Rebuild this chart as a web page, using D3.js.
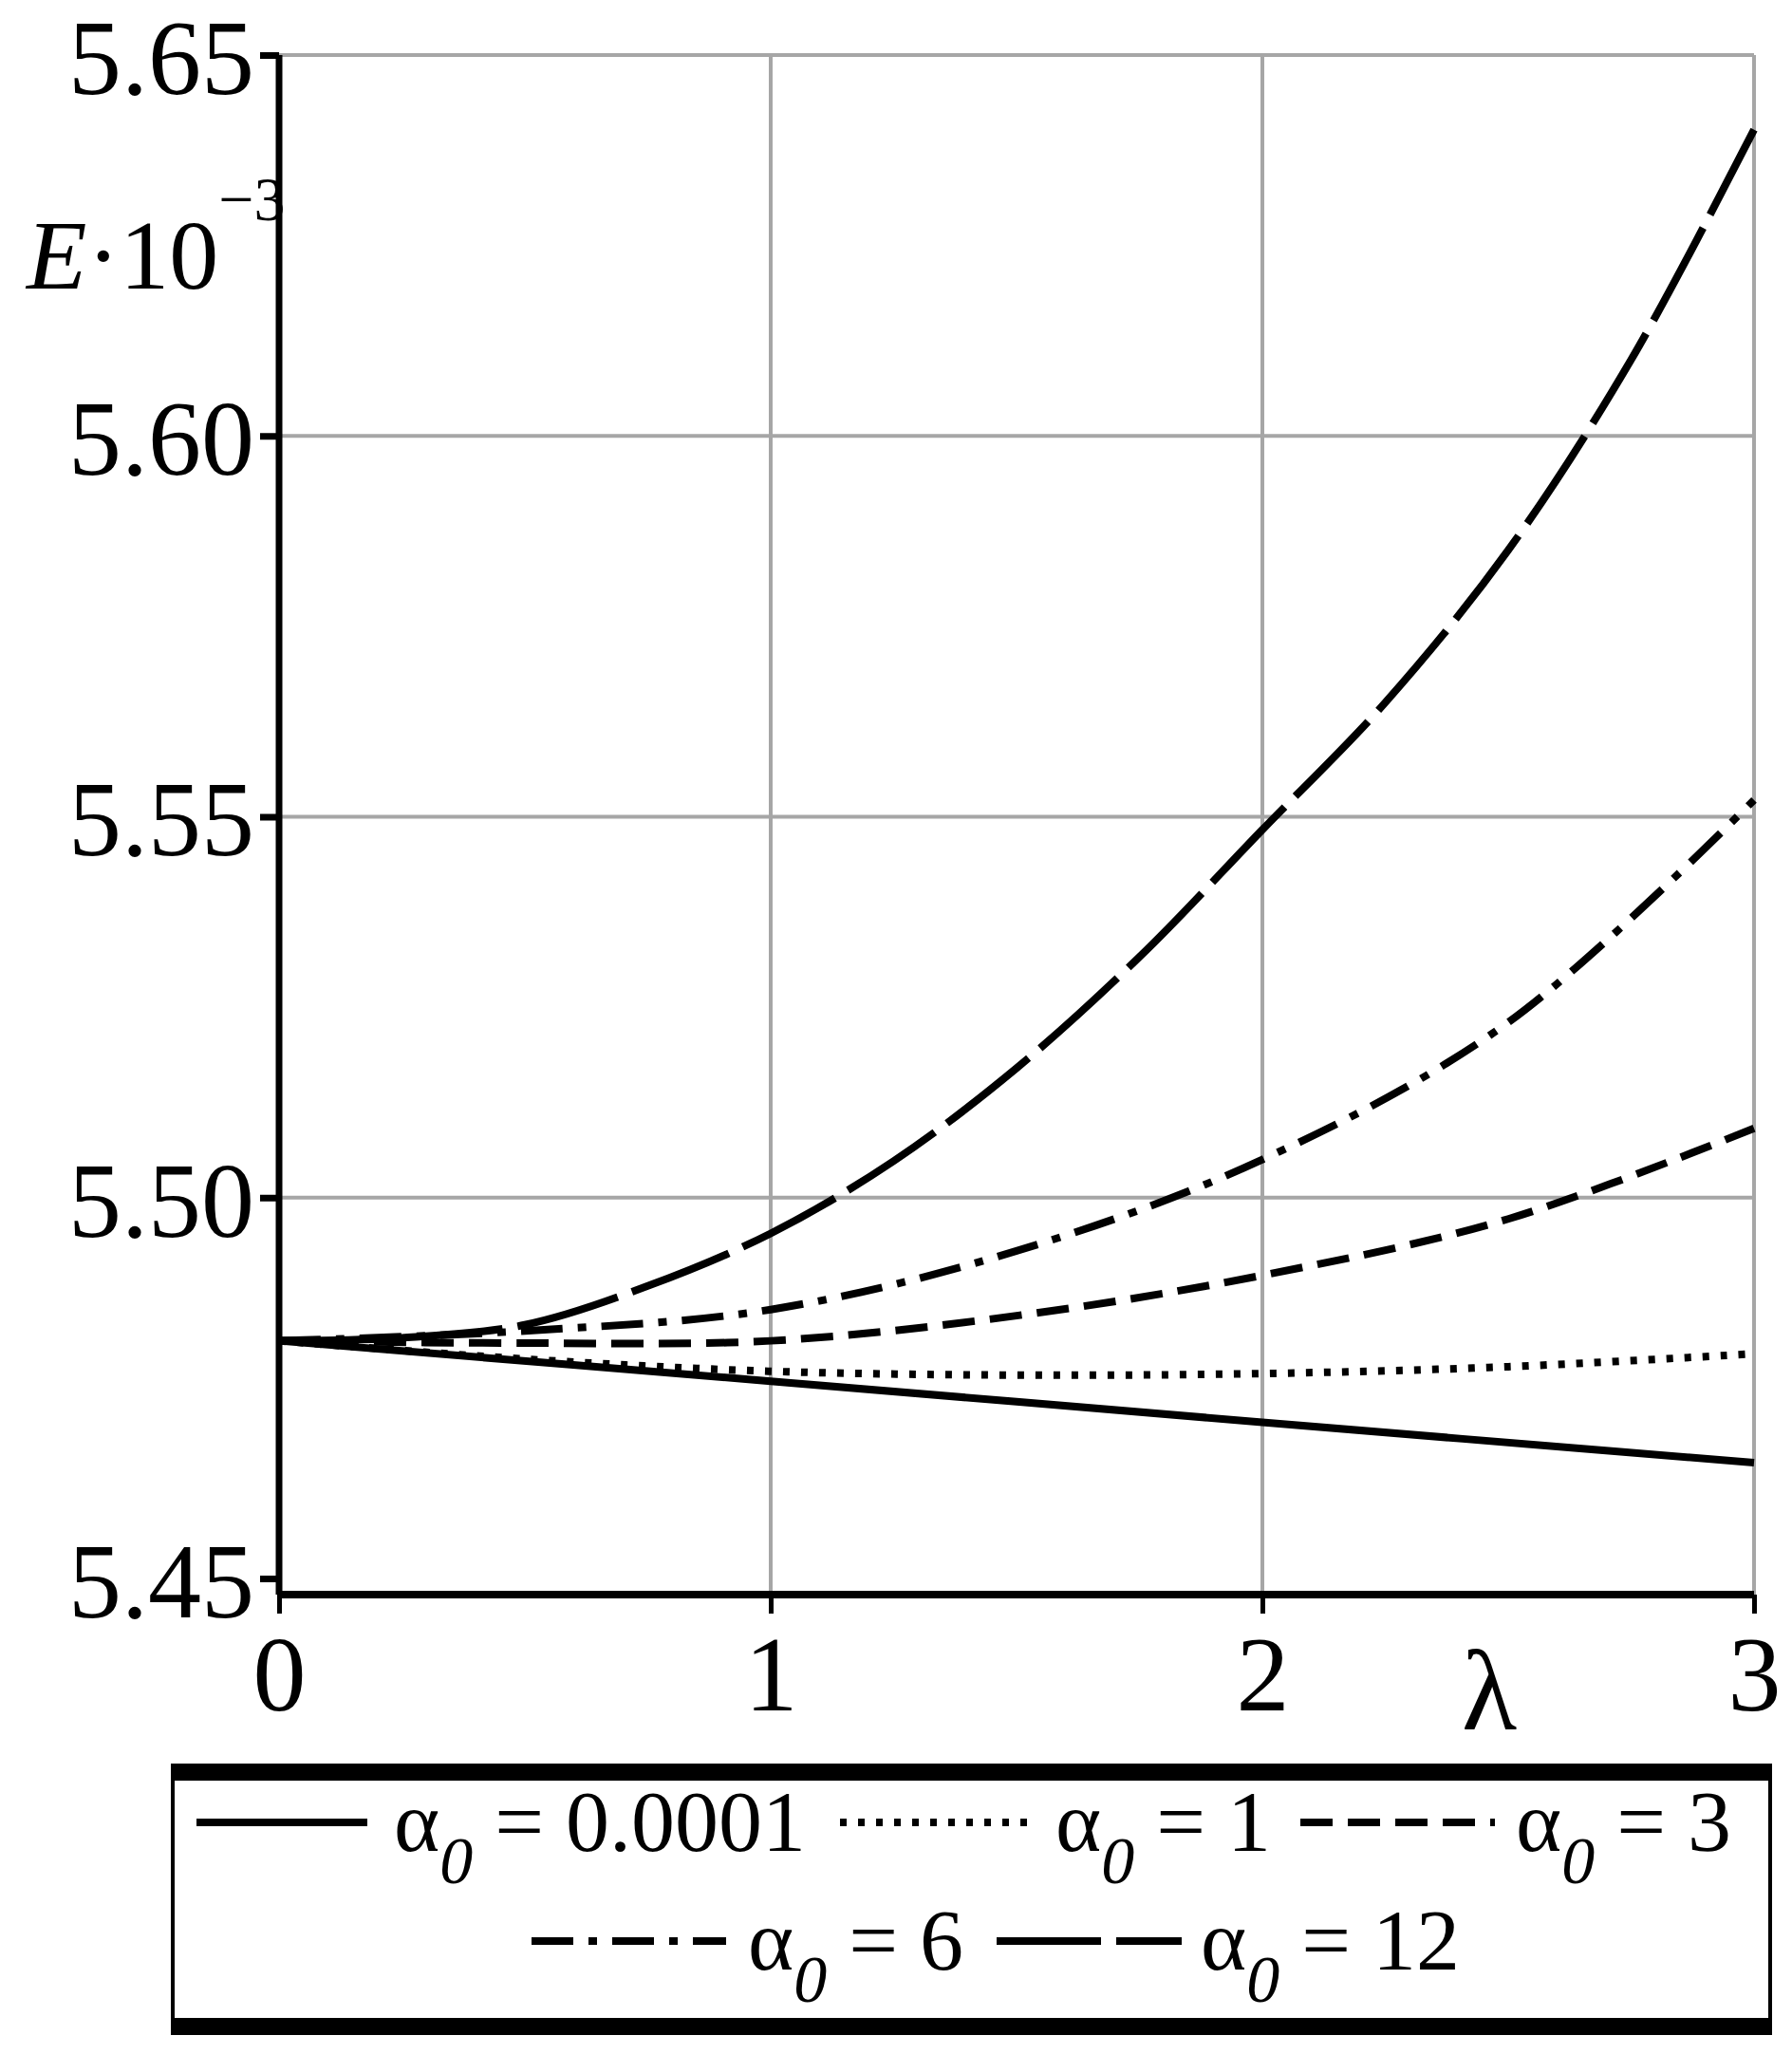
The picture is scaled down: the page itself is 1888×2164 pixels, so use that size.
<!DOCTYPE html>
<html><head><meta charset="utf-8">
<script src="https://cdn.jsdelivr.net/npm/d3@7"></script>
<style>body{margin:0;background:#fff}svg text{font-family:"Liberation Serif","Times New Roman","DejaVu Serif",serif !important}</style>
</head><body>
<svg id="chart" width="1888" height="2164"></svg>
<script>
// lambda values
var lambdas = [0, 0.25, 0.5, 0.75, 1, 1.25, 1.5, 1.75, 2, 2.25, 2.5, 2.75, 3];
var lambdasHalf = [0, 0.5, 1, 1.5, 2, 2.5, 3];
var lambdasInt = [0, 1, 2, 3];

// E*10^-3 per alpha_0
var e_a0001 = [5.4812, 5.4759, 5.4705, 5.4652];
var e_a1 = [5.4812, 5.4788, 5.4772, 5.4767, 5.4769, 5.4778, 5.4795];
var e_a3 = [5.4812, 5.4809, 5.4812, 5.4845, 5.4898, 5.4972, 5.5091];
var e_a6 = [5.4812, 5.4825, 5.4853, 5.4930, 5.5050, 5.5230, 5.5522];
var e_a12 = [5.4812, 5.4816, 5.4833, 5.4884, 5.4953, 5.5048, 5.5170, 5.5316, 5.5483, 5.5650, 5.5850, 5.6100, 5.6402];

var yTicks = [5.45, 5.50, 5.55, 5.60, 5.65];
var xTicks = [0, 1, 2, 3];
var legendLabels = ["0.0001", "1", "3", "6", "12"];

var svg = d3.select('#chart');
var x = d3.scaleLinear().domain([0, 3]).range([294, 1848]);
var y = d3.scaleLinear().domain([5.45, 5.65]).range([1663, 58]);
var xAxisY = 1680;
var serif = '"Liberation Serif","Times New Roman",serif';

// grid
svg.append('g').selectAll('line').data(yTicks.slice(1)).enter().append('line')
  .attr('x1', 294).attr('x2', 1848).attr('y1', d => y(d)).attr('y2', d => y(d))
  .attr('stroke', '#a6a6a6').attr('stroke-width', 4);
svg.append('g').selectAll('line').data(xTicks.slice(1)).enter().append('line')
  .attr('x1', d => x(d)).attr('x2', d => x(d)).attr('y1', 58).attr('y2', xAxisY)
  .attr('stroke', '#a6a6a6').attr('stroke-width', 4);

// axes
var yAxis = d3.axisLeft(y).tickValues(yTicks).tickFormat(d3.format('.2f')).tickSize(20).tickPadding(6);
var gy = svg.append('g').attr('transform', 'translate(294,0)').call(yAxis).attr('font-family', serif);
gy.select('.domain').attr('d', 'M0,58V' + xAxisY).attr('stroke', '#000').attr('stroke-width', 7);
gy.selectAll('.tick line').attr('stroke', '#000').attr('stroke-width', 7);
gy.selectAll('.tick text').attr('font-size', 112).attr('fill', '#000').attr('dy', '0.36em')
  .style('font-family', serif);

var xAxis = d3.axisBottom(x).tickValues(xTicks).tickFormat(d3.format('d')).tickSize(20).tickPadding(22);
var gx = svg.append('g').attr('transform', 'translate(0,' + xAxisY + ')').call(xAxis).attr('font-family', serif);
gx.select('.domain').attr('d', 'M294,0H1848').attr('stroke', '#000').attr('stroke-width', 8);
gx.selectAll('.tick line').attr('stroke', '#000').attr('stroke-width', 5);
gx.selectAll('.tick text').attr('font-size', 112).attr('fill', '#000').style('font-family', serif);

// axis labels
svg.append('text').attr('x', 1569).attr('y', 1822).attr('font-size', 120).attr('text-anchor', 'middle')
  .style('font-family', serif).text('λ');
var yl = svg.append('text').attr('x', 28).attr('y', 304).attr('font-size', 104).style('font-family', serif);
yl.append('tspan').attr('font-style', 'italic').text('E');
yl.append('tspan').text('·10');
yl.append('tspan').attr('font-size', 66).attr('dy', -72).text('−3');

// series
var styles = [
  {data: e_a0001, xs: lambdasInt, dash: null},
  {data: e_a1, xs: lambdasHalf, dash: '7,12'},
  {data: e_a3, xs: lambdasHalf, dash: '34,16'},
  {data: e_a6, xs: lambdasHalf, dash: '44,16,9,16'},
  {data: e_a12, xs: lambdas, dash: '110,16'}
];
var line = d3.line().x(d => x(d[0])).y(d => y(d[1])).curve(d3.curveCatmullRom.alpha(0.5));
styles.forEach(function(s) {
  svg.append('path').datum(s.xs.map((l, i) => [l, s.data[i]]))
    .attr('d', line).attr('fill', 'none').attr('stroke', '#000')
    .attr('stroke-width', 8).attr('stroke-dasharray', s.dash);
});

// legend
svg.append('rect').attr('x', 182).attr('y', 1868).attr('width', 1683).attr('height', 265)
  .attr('fill', 'none').attr('stroke', '#000').attr('stroke-width', 4);
svg.append('rect').attr('x', 180).attr('y', 1858).attr('width', 1687).attr('height', 18).attr('fill', '#000');
svg.append('rect').attr('x', 180).attr('y', 2126).attr('width', 1687).attr('height', 18).attr('fill', '#000');

var legendPos = [
  {lx: 207, lw: 180, tx: 415, ty: 1950},
  {lx: 885, lw: 205, tx: 1112, ty: 1950},
  {lx: 1370, lw: 205, tx: 1597, ty: 1950},
  {lx: 560, lw: 205, tx: 788, ty: 2075},
  {lx: 1050, lw: 195, tx: 1265, ty: 2075}
];
legendLabels.forEach(function(lab, i) {
  var p = legendPos[i];
  svg.append('line').attr('x1', p.lx).attr('x2', p.lx + p.lw).attr('y1', p.ty - 30).attr('y2', p.ty - 30)
    .attr('stroke', '#000').attr('stroke-width', 8).attr('stroke-dasharray', styles[i].dash);
  var t = svg.append('text').attr('x', p.tx).attr('y', p.ty).attr('font-size', 92).style('font-family', serif);
  t.append('tspan').text('α');
  t.append('tspan').attr('font-style', 'italic').attr('font-size', 70).attr('dy', 34).text('0');
  t.append('tspan').attr('dy', -34).text(' = ' + lab);
});
</script>
</body></html>
